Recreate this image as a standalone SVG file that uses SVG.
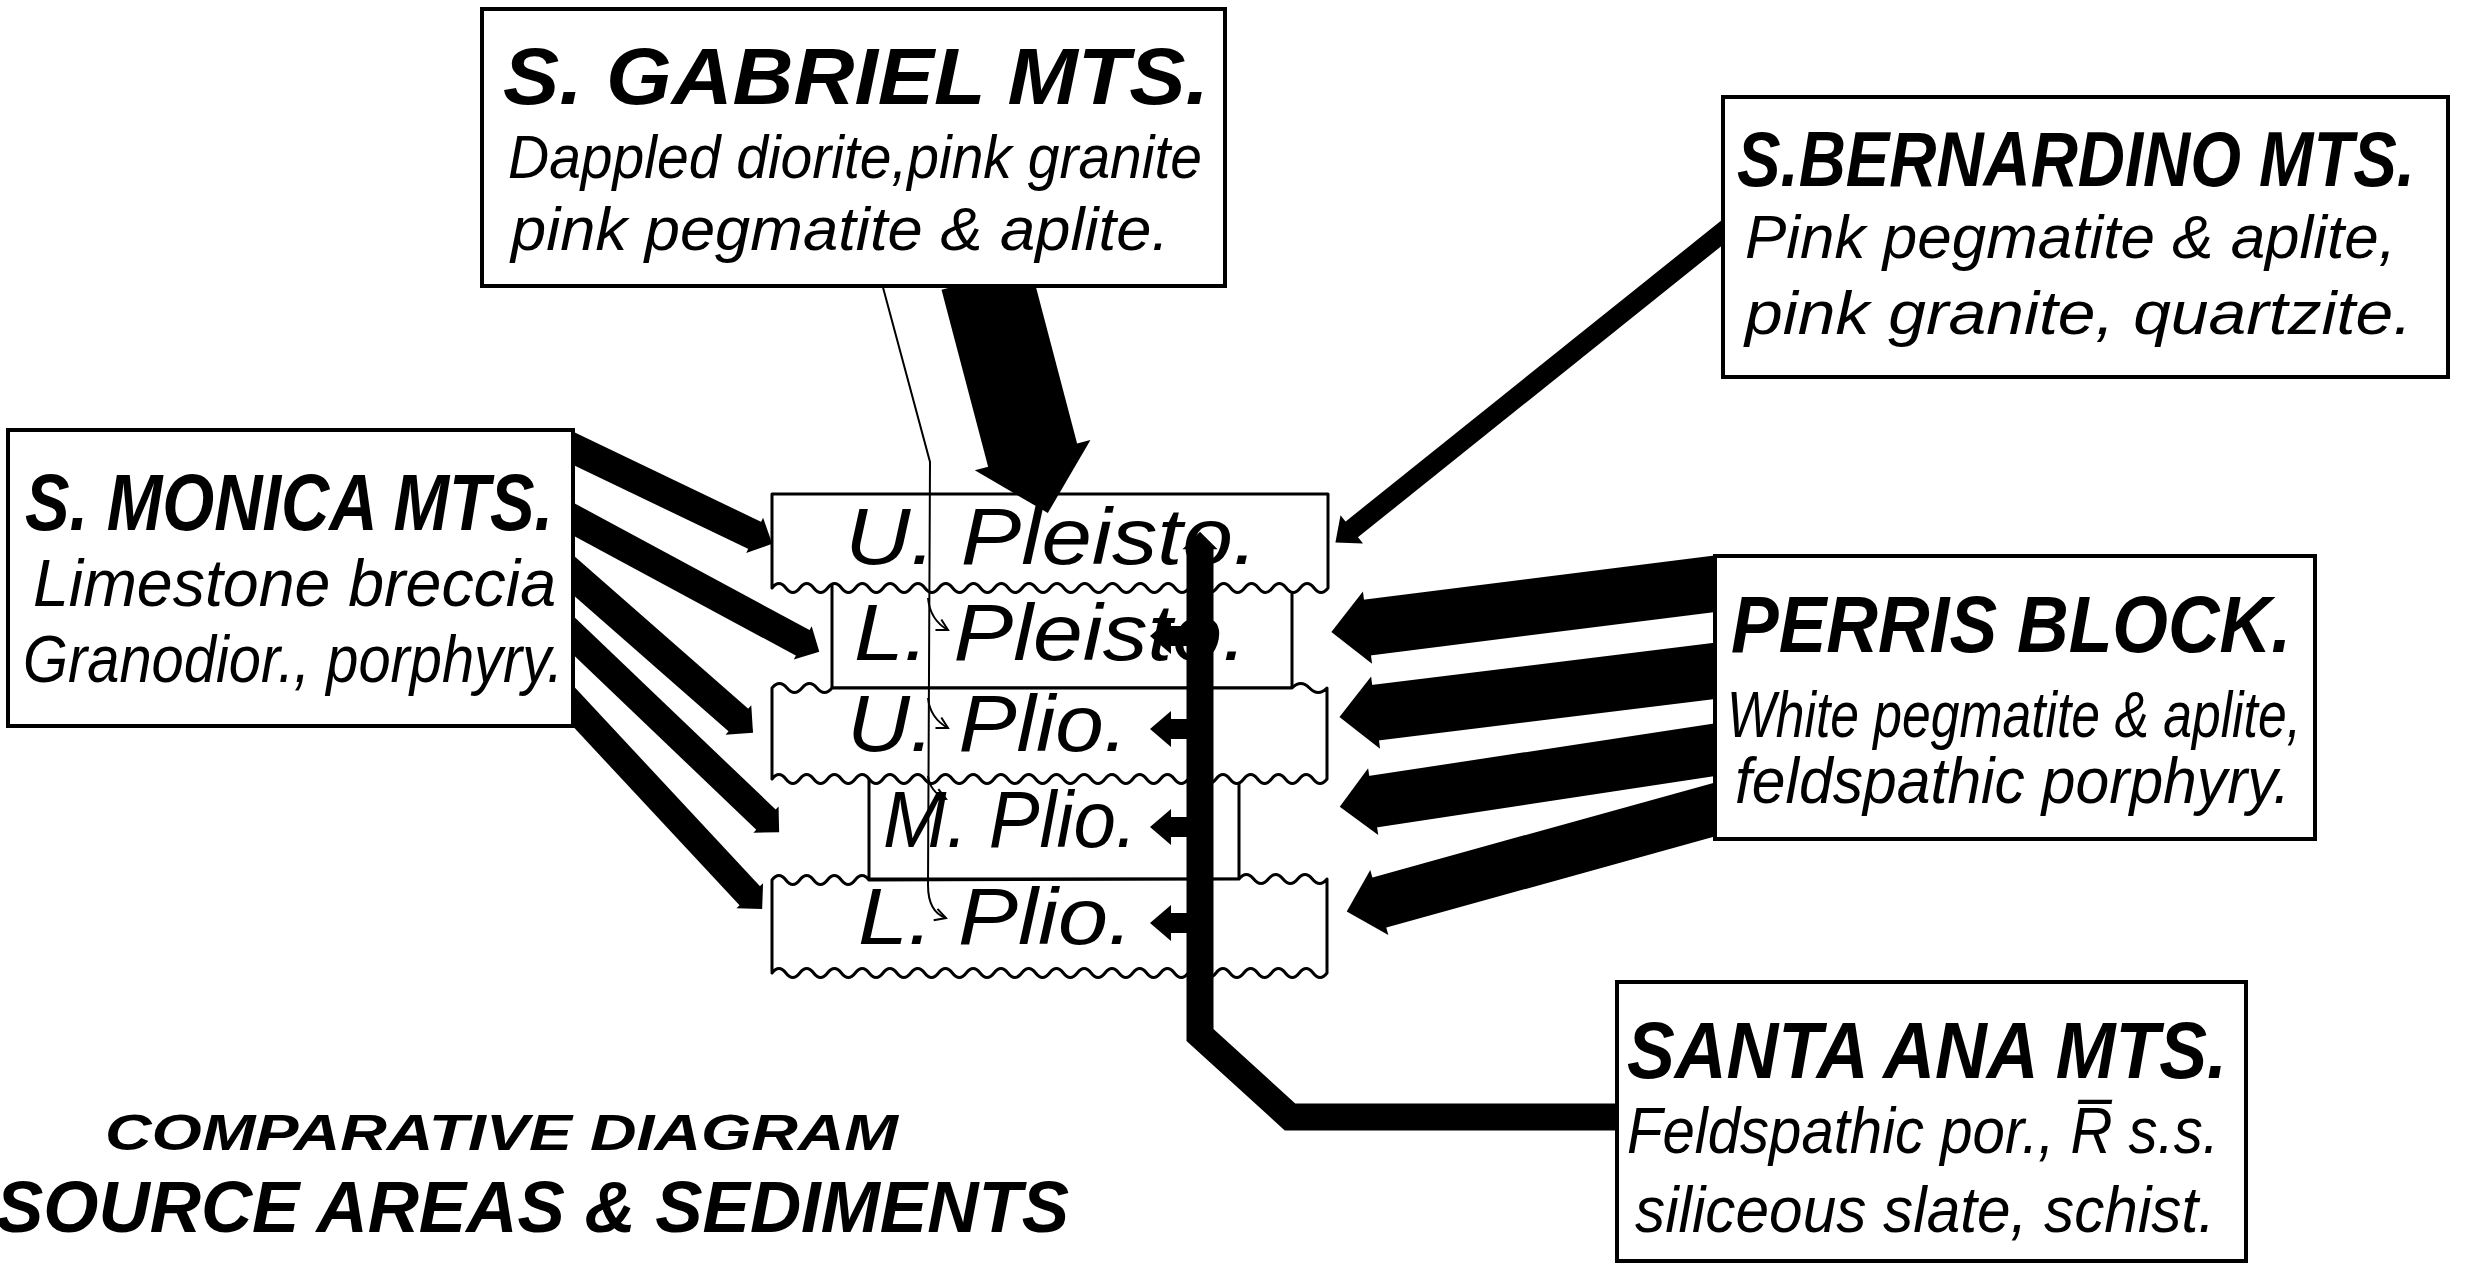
<svg xmlns="http://www.w3.org/2000/svg" width="2476" height="1266" viewBox="0 0 2476 1266">
<style>
.box{fill:#fff;stroke:#000;stroke-width:4}
.strat{fill:#fff;stroke:#000;stroke-width:3;stroke-linejoin:round}
.t{font-family:"Liberation Sans",Arial,sans-serif;font-style:italic;fill:#000}
.ttl{font-size:80px;font-weight:bold}
.dsc{font-size:62px}
.col{font-size:80px}
.big{font-family:"Liberation Sans",Arial,sans-serif;font-style:italic;font-weight:bold;fill:#000}
.conn{stroke:#000;fill:none;stroke-linecap:butt;stroke-linejoin:miter}
.thin{stroke:#000;stroke-width:2;fill:none}
</style>
<defs>
<marker id="head" markerUnits="strokeWidth" markerWidth="1" markerHeight="1.4" viewBox="0 -0.7 1 1.4" refX="0" refY="0" orient="auto" overflow="visible">
<path d="M-0.05,-0.65 L0.6,0 L-0.05,0.65 Z" fill="#000"/>
</marker>
<marker id="sm" markerUnits="strokeWidth" markerWidth="1" markerHeight="2" viewBox="0 -1 1 2" refX="0" refY="0" orient="auto" overflow="visible">
<path d="M-0.05,-0.9 L1,0 L-0.05,0.9 Z" fill="#000"/>
</marker>
<marker id="open" markerUnits="userSpaceOnUse" markerWidth="20" markerHeight="20" viewBox="-12 -10 14 20" refX="0" refY="0" orient="auto" overflow="visible">
<path d="M-11,-6 L0,0 L-11,6" fill="none" stroke="#000" stroke-width="2"/>
</marker>
</defs>
<rect x="0" y="0" width="2476" height="1266" fill="#fff"/>

<!-- strata column -->
<g id="l-pleisto">
<path class="strat" d="M832,580 V688 H1292 V580"/>
<text class="t col" x="854" y="660" textLength="393" lengthAdjust="spacingAndGlyphs">L. Pleisto.</text>
</g>
<g id="u-pleisto">
<path class="strat" d="M772,588 V494 H1328 V588 q-6.95,9 -13.9,0 t-13.9,0 t-13.9,0 t-13.9,0 t-13.9,0 t-13.9,0 t-13.9,0 t-13.9,0 t-13.9,0 t-13.9,0 t-13.9,0 t-13.9,0 t-13.9,0 t-13.9,0 t-13.9,0 t-13.9,0 t-13.9,0 t-13.9,0 t-13.9,0 t-13.9,0 t-13.9,0 t-13.9,0 t-13.9,0 t-13.9,0 t-13.9,0 t-13.9,0 t-13.9,0 t-13.9,0 t-13.9,0 t-13.9,0 t-13.9,0 t-13.9,0 t-13.9,0 t-13.9,0 t-13.9,0 t-13.9,0 t-13.9,0 t-13.9,0 t-13.9,0 t-13.9,0 Z"/>
<text class="t col" x="845" y="564" textLength="413" lengthAdjust="spacingAndGlyphs">U. Pleisto.</text>
</g>
<g id="m-plio">
<path class="strat" d="M869,770 V879 H1239 V770"/>
<text class="t col" x="883" y="847" textLength="254" lengthAdjust="spacingAndGlyphs">M. Plio.</text>
</g>
<g id="u-plio">
<path class="strat" d="M772,688 q7.5,-9 15,0 t15,0 t15,0 t15,0 L1292,688 q8.75,-9 17.5,0 t17.5,0 V779 q-6.9375,9 -13.875,0 t-13.875,0 t-13.875,0 t-13.875,0 t-13.875,0 t-13.875,0 t-13.875,0 t-13.875,0 t-13.875,0 t-13.875,0 t-13.875,0 t-13.875,0 t-13.875,0 t-13.875,0 t-13.875,0 t-13.875,0 t-13.875,0 t-13.875,0 t-13.875,0 t-13.875,0 t-13.875,0 t-13.875,0 t-13.875,0 t-13.875,0 t-13.875,0 t-13.875,0 t-13.875,0 t-13.875,0 t-13.875,0 t-13.875,0 t-13.875,0 t-13.875,0 t-13.875,0 t-13.875,0 t-13.875,0 t-13.875,0 t-13.875,0 t-13.875,0 t-13.875,0 t-13.875,0 Z"/>
<text class="t col" x="847" y="751" textLength="281" lengthAdjust="spacingAndGlyphs">U. Plio.</text>
</g>
<g id="l-plio">
<path class="strat" d="M772,880 q6.93,-9 13.857,0 t13.857,0 t13.857,0 t13.857,0 t13.857,0 t13.857,0 t13.857,0 L1239,879 q7.33,-9 14.667,0 t14.667,0 t14.667,0 t14.667,0 t14.667,0 t14.667,0 V973 q-6.9375,9 -13.875,0 t-13.875,0 t-13.875,0 t-13.875,0 t-13.875,0 t-13.875,0 t-13.875,0 t-13.875,0 t-13.875,0 t-13.875,0 t-13.875,0 t-13.875,0 t-13.875,0 t-13.875,0 t-13.875,0 t-13.875,0 t-13.875,0 t-13.875,0 t-13.875,0 t-13.875,0 t-13.875,0 t-13.875,0 t-13.875,0 t-13.875,0 t-13.875,0 t-13.875,0 t-13.875,0 t-13.875,0 t-13.875,0 t-13.875,0 t-13.875,0 t-13.875,0 t-13.875,0 t-13.875,0 t-13.875,0 t-13.875,0 t-13.875,0 t-13.875,0 t-13.875,0 t-13.875,0 Z"/>
<text class="t col" x="858" y="944" textLength="275" lengthAdjust="spacingAndGlyphs">L. Plio.</text>
</g>

<!-- connectors -->
<g id="connectors">
<!-- S. Gabriel -->
<line class="conn" x1="986" y1="278" x2="1033.8" y2="459.6" stroke-width="92" marker-end="url(#head)"/>
<path class="thin" d="M881,280 L930,462 L928,885 Q928,912 946,918" marker-end="url(#open)"/>
<path class="thin" d="M928,598 Q930,620 948,630" marker-end="url(#open)"/>
<path class="thin" d="M928,698 Q930,718 948,728" marker-end="url(#open)"/>
<path class="thin" d="M928,776 Q930,792 946,799" marker-end="url(#open)"/>
<!-- S. Bernardino -->
<line class="conn" x1="1734.7" y1="222.6" x2="1351" y2="530" stroke-width="20" marker-end="url(#sm)"/>
<!-- S. Monica -->
<line class="conn" x1="560" y1="442" x2="756" y2="536" stroke-width="30" marker-end="url(#head)"/>
<line class="conn" x1="560" y1="512" x2="804" y2="643.5" stroke-width="29" marker-end="url(#head)"/>
<line class="conn" x1="561.7" y1="565" x2="739.5" y2="721" stroke-width="30" marker-end="url(#head)"/>
<line class="conn" x1="562" y1="624.6" x2="767" y2="820.6" stroke-width="28" marker-end="url(#head)"/>
<line class="conn" x1="562.8" y1="695" x2="750.7" y2="896.8" stroke-width="28" marker-end="url(#head)"/>
<!-- Perris Block -->
<line class="conn" x1="1727.9" y1="582.1" x2="1364.7" y2="627.9" stroke-width="56" marker-end="url(#head)"/>
<line class="conn" x1="1727.9" y1="669.2" x2="1372.8" y2="713" stroke-width="56" marker-end="url(#head)"/>
<line class="conn" x1="1727.8" y1="747.7" x2="1370.6" y2="802" stroke-width="52" marker-end="url(#head)"/>
<line class="conn" x1="1727.5" y1="806" x2="1376.8" y2="903.2" stroke-width="52" marker-end="url(#head)"/>
<!-- Santa Ana -->
<path class="conn" d="M1630,1117 H1290 L1200,1035 V548" stroke-width="27" marker-end="url(#head)"/>
<line class="conn" x1="1195" y1="636" x2="1170" y2="636" stroke-width="20" marker-end="url(#sm)"/>
<line class="conn" x1="1195" y1="729" x2="1170" y2="729" stroke-width="20" marker-end="url(#sm)"/>
<line class="conn" x1="1195" y1="827" x2="1170" y2="827" stroke-width="20" marker-end="url(#sm)"/>
<line class="conn" x1="1195" y1="923" x2="1170" y2="923" stroke-width="20" marker-end="url(#sm)"/>
</g>

<!-- source areas -->
<g id="s-gabriel">
<rect class="box" x="482" y="9" width="743" height="277"/>
<text class="t ttl" x="503" y="104" textLength="706" lengthAdjust="spacingAndGlyphs">S. GABRIEL MTS.</text>
<text class="t dsc" x="508" y="178" textLength="694" lengthAdjust="spacingAndGlyphs">Dappled diorite,pink granite</text>
<text class="t dsc" x="511" y="250" textLength="658" lengthAdjust="spacingAndGlyphs">pink pegmatite &amp; aplite.</text>
</g>
<g id="s-bernardino">
<rect class="box" x="1723" y="97" width="725" height="280"/>
<text class="t" font-weight="bold" font-size="65" transform="translate(1737,186) scale(1,1.2)" x="0" y="0" textLength="678" lengthAdjust="spacingAndGlyphs">S.BERNARDINO MTS.</text>
<text class="t dsc" x="1745" y="258" textLength="651" lengthAdjust="spacingAndGlyphs">Pink pegmatite &amp; aplite,</text>
<text class="t dsc" x="1745" y="334" textLength="667" lengthAdjust="spacingAndGlyphs">pink granite, quartzite.</text>
</g>
<g id="s-monica">
<rect class="box" x="8" y="430" width="565" height="296"/>
<text class="t ttl" font-size="84" x="25" y="530" textLength="528" lengthAdjust="spacingAndGlyphs">S. MONICA MTS.</text>
<text class="t" font-size="66" x="33" y="606" textLength="523" lengthAdjust="spacingAndGlyphs">Limestone breccia</text>
<text class="t" font-size="66" x="23" y="682" textLength="540" lengthAdjust="spacingAndGlyphs">Granodior., porphyry.</text>
</g>
<g id="perris-block">
<rect class="box" x="1715" y="556" width="600" height="283"/>
<text class="t ttl" font-size="76" x="1731" y="652" textLength="560" lengthAdjust="spacingAndGlyphs">PERRIS BLOCK.</text>
<text class="t" font-size="64" x="1727" y="737" textLength="574" lengthAdjust="spacingAndGlyphs">White pegmatite &amp; aplite,</text>
<text class="t" font-size="64" x="1735" y="803" textLength="555" lengthAdjust="spacingAndGlyphs">feldspathic porphyry.</text>
</g>
<g id="santa-ana">
<rect class="box" x="1617" y="982" width="629" height="279"/>
<text class="t ttl" x="1627" y="1078" textLength="600" lengthAdjust="spacingAndGlyphs">SANTA ANA MTS.</text>
<text class="t" font-size="64" x="1627" y="1153" textLength="592" lengthAdjust="spacingAndGlyphs">Feldspathic por., R̅ s.s.</text>
<text class="t" font-size="64" x="1635" y="1232" textLength="580" lengthAdjust="spacingAndGlyphs">siliceous slate, schist.</text>
</g>

<!-- caption -->
<g id="caption">
<text class="big" font-size="50" x="105" y="1150" textLength="793" lengthAdjust="spacingAndGlyphs">COMPARATIVE DIAGRAM</text>
<text class="big" font-size="72" x="-4" y="1232" textLength="1073" lengthAdjust="spacingAndGlyphs">SOURCE AREAS &amp; SEDIMENTS</text>
</g>
</svg>
